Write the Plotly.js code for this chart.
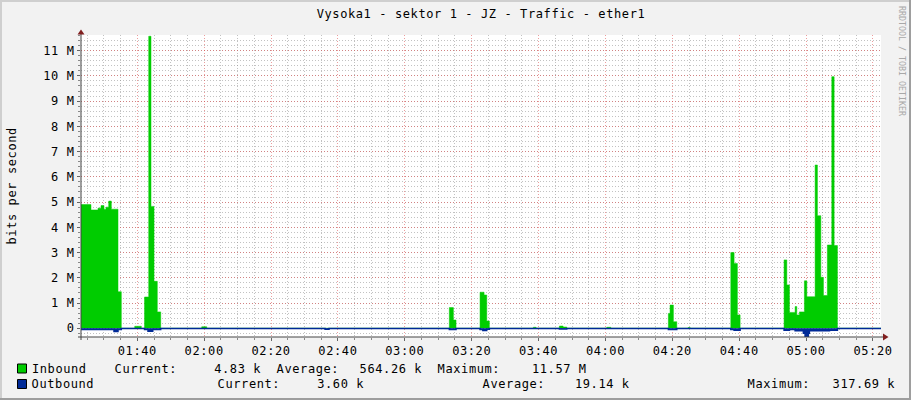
<!DOCTYPE html>
<html><head><meta charset="utf-8">
<script src="https://cdn.plot.ly/plotly-3.0.1.min.js"></script>
<style>
html,body{margin:0;padding:0;background:#f2f2f2;}
#chart{width:911px;height:400px;}
#chart text{letter-spacing:0.6px;}
#chart .annotation[data-index="1"] text{letter-spacing:0px;}
</style></head><body><div id="chart"></div>
<script>
const DAY = '2024-01-01 ';
const chartTitle = 'Vysoka1 - sektor 1 - JZ - Traffic - ether1';
const yAxisTitle = 'bits per second';
const watermark = 'RRDTOOL / TOBI OETIKER';

// Inbound (Mbit/s), step values starting at each time
const inTimes = ['01:23:00','01:26:09','01:28:15','01:29:09','01:30:03','01:30:39','01:31:27','01:32:14','01:34:14','01:35:13',
  '01:39:14','01:41:12','01:42:10','01:43:25','01:44:06','01:45:00','01:45:59','01:47:00','01:59:16','02:00:46',
  '03:13:19','03:14:31','03:15:19','03:22:30','03:23:42','03:24:30','03:25:17','03:38:27','03:39:15','03:46:13',
  '03:47:20','03:48:26','04:00:24','04:01:36','04:18:49','04:19:19','04:20:19','04:21:20','04:24:43','04:25:20',
  '04:37:29','04:38:28','04:39:27','04:40:16','04:53:25','04:54:14','04:55:01','04:56:43','04:57:13','04:58:00',
  '04:59:30','05:00:13','05:02:42','05:03:23','05:04:24','05:05:11','05:06:22','05:07:41','05:08:23','05:09:22','05:22:30'];
const inVals = [4.90,4.69,4.76,4.86,4.72,4.80,5.04,4.72,1.45,0.005,
  0.08,0.005,1.24,11.57,4.83,1.86,0.65,0.005,0.06,0.005,
  0.82,0.33,0.005,1.43,1.32,0.29,0.005,0.04,0.005,0.09,
  0.05,0.005,0.04,0.005,0.59,0.92,0.26,0.005,0.03,0.005,
  3.00,2.57,0.53,0.005,2.71,1.72,0.63,0.86,0.53,0.65,
  1.88,1.25,6.47,4.46,2.02,1.30,3.30,9.97,3.28,0.005,0.005];

// Outbound (Mbit/s), drawn mirrored below zero
const outTimes = ['01:23:00','01:33:02','01:34:14','01:35:13','01:42:10','01:43:12','01:44:37','01:47:00','02:36:09','02:37:20',
  '03:13:19','03:15:19','03:22:30','03:23:20','03:24:30','03:25:17','03:46:13','03:48:26','04:18:49','04:21:20',
  '04:37:29','04:38:28','04:40:16','04:53:25','04:55:01','04:56:43','04:59:11','04:59:42','05:00:41','05:00:59',
  '05:07:00','05:09:22','05:22:30'];
const outVals = [-0.05,-0.13,-0.05,-0.006,-0.05,-0.12,-0.05,-0.006,-0.04,-0.006,
  -0.05,-0.006,-0.05,-0.09,-0.04,-0.006,-0.03,-0.006,-0.05,-0.006,
  -0.05,-0.08,-0.006,-0.08,-0.05,-0.10,-0.20,-0.318,-0.20,-0.10,
  -0.08,-0.006,-0.004];

const yTickVals = [0,1,2,3,4,5,6,7,8,9,10,11];
const yTickText = ['0','1 M','2 M','3 M','4 M','5 M','6 M','7 M','8 M','9 M','10 M','11 M'];
const xStart = '01:23:10', xEnd = '05:22:24';

const legendRows = [
  {name:'Inbound', color:'#00CC00', labels:[['Current:',117],['Average:',279],['Maximum:',440]],
   values:[['4.83 k',260],['564.26 k',421],['11.57 M',585]]},
  {name:'Outbound', color:'#002A97', labels:[['Current:',220],['Average:',485],['Maximum:',750]],
   values:[['3.60 k',363],['19.14 k',628],['317.69 k',894]]}
];

// layout geometry (pixels)
const L = 81, R = 881, T = 35, B = 337;
const X = px => (px - L) / (R - L);
const Y = py => (B - py) / (B - T);
const FONT = 'DejaVu Sans Mono';

const traces = [
  {x: inTimes.map(t => DAY + t), y: inVals, type:'scatter', mode:'lines', line:{shape:'hv', width:0.5, color:'#00CC00'},
   fill:'tozeroy', fillcolor:'#00CC00', hoverinfo:'skip'},
  {x: outTimes.map(t => DAY + t), y: outVals, type:'scatter', mode:'lines', line:{shape:'hv', width:1.5, color:'#002A97'},
   fill:'tozeroy', fillcolor:'#002A97', hoverinfo:'skip'}
];

const ann = [];
const shapes = [];
ann.push({text: yAxisTitle, xref:'paper', yref:'paper', x:X(12), y:Y(186), textangle:-90, showarrow:false,
  font:{family:FONT, size:12, color:'#000'}, xanchor:'center', yanchor:'middle'});
ann.push({text: watermark, xref:'paper', yref:'paper', x:X(902), y:Y(61), textangle:90, showarrow:false,
  font:{family:FONT, size:8.3, color:'#a8a8a8'}, xanchor:'center', yanchor:'middle', borderpad:0});
const rowY = [368.5, 384];
legendRows.forEach((r, i) => {
  const yc = rowY[i];
  shapes.push({type:'rect', xref:'paper', yref:'paper', x0:X(17.5), x1:X(26.5), y0:Y(yc-4.5), y1:Y(yc+4.5),
    fillcolor:r.color, line:{color:'#000', width:1}});
  ann.push({text:r.name, xref:'paper', yref:'paper', x:X(33), y:Y(yc), xanchor:'left', yanchor:'middle', showarrow:false,
    borderpad:0, font:{family:FONT, size:12, color:'#000'}});
  r.labels.forEach(([t, px]) => ann.push({text:t, xref:'paper', yref:'paper', x:X(px-1), y:Y(yc), xanchor:'left', yanchor:'middle',
    showarrow:false, borderpad:0, font:{family:FONT, size:12, color:'#000'}}));
  r.values.forEach(([t, px]) => ann.push({text:t, xref:'paper', yref:'paper', x:X(px+1), y:Y(yc), xanchor:'right', yanchor:'middle',
    showarrow:false, borderpad:0, font:{family:FONT, size:12, color:'#000'}}));
});

// axes lines and arrows
shapes.push({type:'line', xref:'paper', yref:'paper', x0:X(81), x1:X(81), y0:Y(31), y1:Y(340), line:{color:'#444', width:1}});
shapes.push({type:'line', xref:'paper', yref:'paper', x0:X(78), x1:X(884), y0:Y(337), y1:Y(337), line:{color:'#444', width:1}});
shapes.push({type:'path', xref:'paper', yref:'paper',
  path:`M ${X(77.5)},${Y(34.5)} L ${X(84.5)},${Y(34.5)} L ${X(81)},${Y(29.5)} Z`, fillcolor:'#801f1f', line:{width:0}});
shapes.push({type:'path', xref:'paper', yref:'paper',
  path:`M ${X(883)},${Y(333.5)} L ${X(883)},${Y(340.5)} L ${X(888.5)},${Y(337)} Z`, fillcolor:'#801f1f', line:{width:0}});
// frame shading
shapes.push({type:'rect', xref:'paper', yref:'paper', x0:X(0), x1:X(911), y0:Y(0), y1:Y(2), fillcolor:'#cfcfcf', line:{width:0}, layer:'above'});
shapes.push({type:'rect', xref:'paper', yref:'paper', x0:X(0), x1:X(2), y0:Y(0), y1:Y(400), fillcolor:'#cfcfcf', line:{width:0}});
shapes.push({type:'rect', xref:'paper', yref:'paper', x0:X(0), x1:X(911), y0:Y(398), y1:Y(400), fillcolor:'#9e9e9e', line:{width:0}});
shapes.push({type:'rect', xref:'paper', yref:'paper', x0:X(909), x1:X(911), y0:Y(0), y1:Y(400), fillcolor:'#9e9e9e', line:{width:0}});

const layout = {
  width:911, height:400, margin:{l:L, r:911-R, t:T, b:400-B},
  paper_bgcolor:'#f2f2f2', plot_bgcolor:'#ffffff', showlegend:false,
  title:{text:chartTitle, x:0.5, xref:'paper', xanchor:'center', y:1-14/400, yanchor:'middle',
    font:{family:FONT, size:12, color:'#000'}},
  xaxis:{type:'date', range:[DAY+xStart, DAY+xEnd], tickmode:'linear', tick0:DAY+'00:00:00', dtick:1200000,
    tickformat:'%H:%M', showline:false, zeroline:false, showgrid:true, gridcolor:'rgba(222,79,79,0.55)', griddash:'1px,2px',
    gridwidth:1, ticks:'outside', ticklen:3, tickcolor:'#666',
    tickfont:{family:FONT, size:12, color:'#000'},
    minor:{dtick:300000, tick0:DAY+'00:00:00', showgrid:true, gridcolor:'rgba(143,143,143,0.55)', griddash:'1px,2px', ticks:'outside', ticklen:2, tickcolor:'#888'},
    fixedrange:true},
  yaxis:{range:[-0.345, 11.62], tickmode:'array', tickvals:yTickVals, ticktext:yTickText, showline:false, zeroline:false,
    showgrid:true, gridcolor:'rgba(222,79,79,0.55)', griddash:'1px,2px', ticks:'outside', ticklen:3, tickcolor:'#666',
    tickfont:{family:FONT, size:12, color:'#000'},
    minor:{tickmode:'linear', tick0:0, dtick:0.2, showgrid:true, gridcolor:'rgba(143,143,143,0.55)', griddash:'1px,2px', ticks:'outside', ticklen:2, tickcolor:'#888'},
    fixedrange:true},
  annotations:ann, shapes:shapes
};
Plotly.newPlot('chart', traces, layout, {staticPlot:true, displayModeBar:false});
</script></body></html>
